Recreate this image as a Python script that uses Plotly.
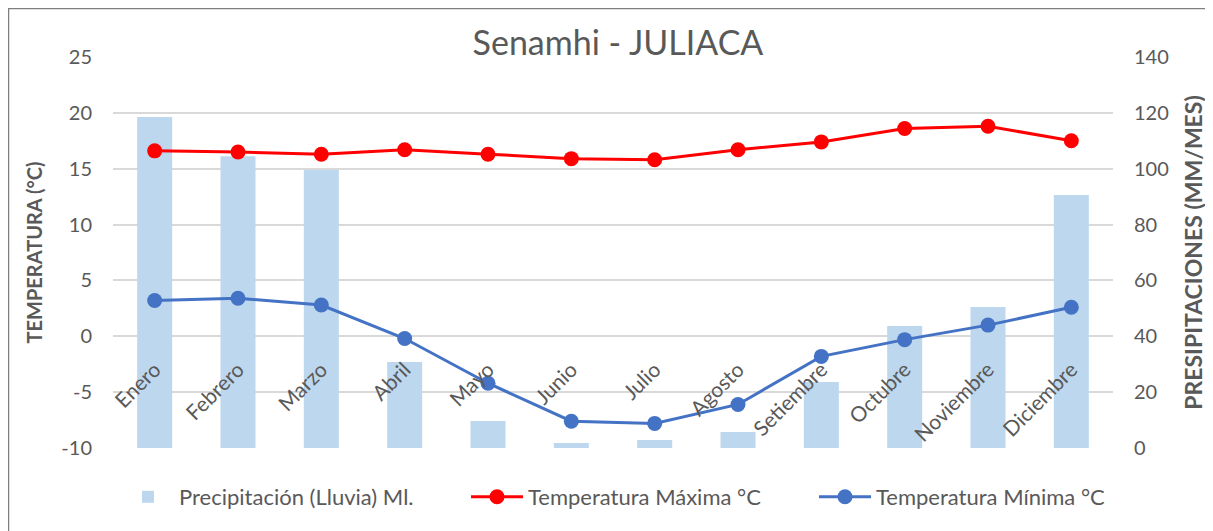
import plotly.graph_objects as go

meses = ["Enero", "Febrero", "Marzo", "Abril", "Mayo", "Junio", "Julio",
         "Agosto", "Setiembre", "Octubre", "Noviembre", "Diciembre"]
precipitacion = [118.5, 104.5, 99.5, 30.8, 9.7, 1.8, 2.9, 5.7, 23.6, 43.7, 50.5, 90.6]
temp_max = [16.6, 16.5, 16.3, 16.7, 16.3, 15.9, 15.8, 16.7, 17.4, 18.6, 18.8, 17.5]
temp_min = [3.2, 3.4, 2.8, -0.2, -4.2, -7.6, -7.8, -6.1, -1.8, -0.3, 1.0, 2.6]
temp_ticks = [-10, -5, 0, 5, 10, 15, 20, 25]
temp_ticktext = ["-10", "-5", "0", "5", "10", "15", "20", "25"]

GRAY = "#595959"
FONT = "Lato"

# page has an 8px body margin: figure occupies page x 8..1213, y 8..531
W, H = 1205, 523
L, R, T, B = 105, 100, 49, 83  # plot area on page: x 113..1113, y 57..448
PW, PH = W - L - R, H - T - B


def px_x(p):
    return (p - 113) / PW


def px_y(p):
    return (448 - p) / PH


fig = go.Figure()
fig.add_trace(go.Bar(x=meses, y=precipitacion, name="Precipitación (Lluvia) Ml.",
                     marker=dict(color="#BDD7EE", line=dict(width=0)), yaxis="y",
                     legend="legend", showlegend=True))
fig.add_trace(go.Scatter(x=meses, y=temp_max, name="Temperatura Máxima °C", mode="lines+markers",
                         line=dict(color="#FF0000", width=3), marker=dict(size=15, color="#FF0000"),
                         yaxis="y2", legend="legend2", showlegend=True))
fig.add_trace(go.Scatter(x=meses, y=temp_min, name="Temperatura Mínima °C", mode="lines+markers",
                         line=dict(color="#4472C4", width=3), marker=dict(size=15, color="#4472C4"),
                         yaxis="y2", legend="legend3", showlegend=True))

leg_common = dict(orientation="h", xanchor="left", y=px_y(497), yanchor="middle",
                  font=dict(size=22, color=GRAY, family=FONT), itemwidth=52,
                  bgcolor="rgba(0,0,0,0)", visible=True)

fig.update_layout(
    width=W, height=H,
    showlegend=True,
    margin=dict(l=L, r=R, t=T, b=B, autoexpand=False),
    paper_bgcolor="white", plot_bgcolor="white",
    font=dict(family=FONT, color=GRAY, size=20),
    bargap=0.58,
    title=dict(text="Senamhi - JULIACA", x=px_x(618), xref="paper", xanchor="center",
               y=1 - 35 / H, yref="container", yanchor="middle",
               font=dict(size=34, color=GRAY, family=FONT)),
    xaxis=dict(anchor="free", position=10 / 35, range=[-0.5, 11.5], showgrid=False,
               showline=False, zeroline=False, ticks="", tickangle=-45,
               ticklabelstandoff=16, tickfont=dict(size=21, color=GRAY)),
    yaxis=dict(side="right", range=[0, 140], dtick=20, showgrid=False, zeroline=False,
               showline=False, ticks="", ticklabelstandoff=20,
               tickfont=dict(size=20, color=GRAY),
               title=dict(text="<b>PRESIPITACIONES (MM/MES)</b>", standoff=18,
                          font=dict(size=23, color=GRAY))),
    yaxis2=dict(side="left", overlaying="y", range=[-10, 25], tickvals=temp_ticks,
                ticktext=temp_ticktext, showgrid=True,
                gridcolor="#D9D9D9", gridwidth=1.5, zeroline=False, showline=False, ticks="",
                ticklabelstandoff=20, tickfont=dict(size=20, color=GRAY),
                title=dict(text="<b>TEMPERATURA (°C)</b>", standoff=13,
                           font=dict(size=20, color=GRAY))),
    legend=dict(x=px_x(117), **leg_common),
    legend2=dict(x=px_x(466), **leg_common),
    legend3=dict(x=px_x(814), **leg_common),
    shapes=[dict(type="rect", xref="paper", yref="paper",
                 x0=px_x(8.5), x1=px_x(1230),
                 y0=px_y(560), y1=px_y(8.5),
                 line=dict(color="#7F7F7F", width=1.5), fillcolor="rgba(0,0,0,0)", layer="below")],
)

fig.write_html("out.html")
